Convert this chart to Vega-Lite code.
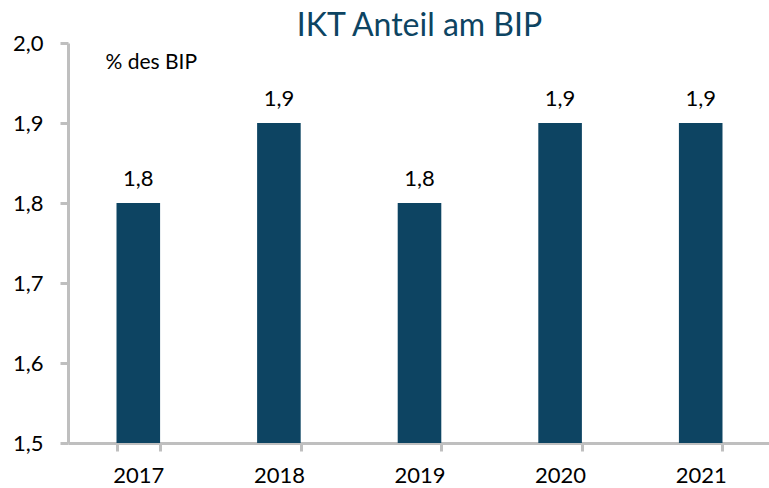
{
  "$schema": "https://vega.github.io/schema/vega-lite/v6.json",
  "width": 703,
  "height": 400,
  "autosize": {"type": "none"},
  "padding": {"left": 68, "top": 43, "right": 0, "bottom": 45},
  "background": "white",
  "config": {
    "locale": {"number": {"decimal": ",", "thousands": ".", "grouping": [3], "currency": ["", " €"]}},
    "font": "Lato",
    "view": {"stroke": null},
    "axis": {"domainColor": "#bfbfbf", "domainWidth": 3, "tickColor": "#bfbfbf", "tickWidth": 3, "tickSize": 8, "labelColor": "#000000", "labelFontSize": 22, "grid": false, "labelFont": "Lato"}
  },
  "title": {"text": "IKT Anteil am BIP", "fontSize": 32, "font": "Lato", "fontWeight": "normal", "color": "#0d4462", "anchor": "middle", "offset": 6, "dy": 17},
  "data": {"values": [
    {"jahr": "2017", "wert": 1.8},
    {"jahr": "2018", "wert": 1.9},
    {"jahr": "2019", "wert": 1.8},
    {"jahr": "2020", "wert": 1.9},
    {"jahr": "2021", "wert": 1.9}
  ]},
  "encoding": {
    "x": {"field": "jahr", "type": "nominal", "scale": {"paddingInner": 0.69, "paddingOuter": 0.345},
      "axis": {"title": null, "labelAngle": 0, "labelPadding": 14, "tickBand": "extent", "labelBaseline": "top"}},
    "y": {"field": "wert", "type": "quantitative", "scale": {"domain": [1.5, 2.0], "zero": false, "clamp": true, "nice": false},
      "axis": {"values": [1.5, 1.6, 1.7, 1.8, 1.9, 2.0], "format": ".1f", "labelPadding": 17, "title": "% des BIP", "titleAngle": 0, "titleX": 37, "titleY": 19, "titleAlign": "left", "titleBaseline": "middle", "titleFontSize": 21, "titleFontWeight": "normal", "titleColor": "#000000", "titleFont": "Lato"}}
  },
  "layer": [
    {"mark": {"type": "bar", "color": "#0d4462"}},
    {"mark": {"type": "text", "dy": -24, "fontSize": 22, "color": "#000000", "font": "Lato"},
      "encoding": {"text": {"field": "wert", "type": "quantitative", "format": ".1f"}}}
  ]
}
